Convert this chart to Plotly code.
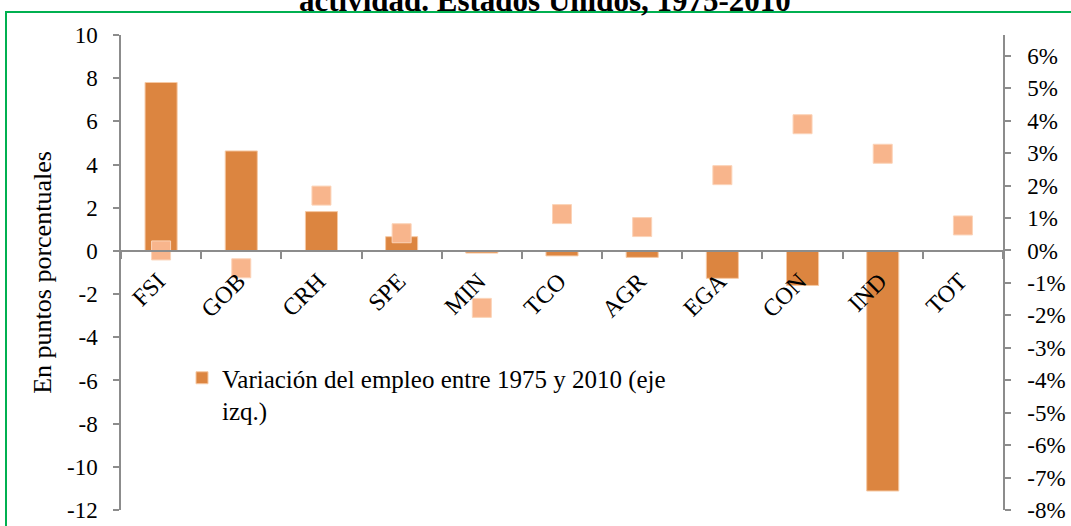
import plotly.graph_objects as go

categories = ["FSI", "GOB", "CRH", "SPE", "MIN", "TCO", "AGR", "EGA", "CON", "IND", "TOT"]
empleo_var = [7.8, 4.63, 1.82, 0.66, -0.1, -0.23, -0.3, -1.27, -1.6, -11.12, 0.0]
serie_der = [0.0, -0.55, 1.69, 0.53, -1.77, 1.12, 0.72, 2.32, 3.89, 2.98, 0.77]
left_ticks = list(range(-12, 11, 2))
left_labels = [str(v) for v in left_ticks]
right_ticks = list(range(-8, 7, 1))
right_labels = [f"{v}%" for v in right_ticks]

W, H = 1071, 526
L, R, T, B = 121, 68, 35, 16
pw, ph = W - L - R, H - T - B

def px_x(x):
    return (x - L) / pw

def px_y(y):
    return (H - B - y) / ph

FONT = "Liberation Serif"
FS = 23
AX = "#8c8c8c"

fig = go.Figure()
fig.add_trace(go.Bar(
    x=categories, y=empleo_var, name="Variación del empleo entre 1975 y 2010 (eje<br>izq.)",
    marker=dict(color="#DC8540", line=dict(color="#F6C9A4", width=1)),
    width=0.4, yaxis="y",
))
fig.add_trace(go.Scatter(
    x=categories, y=serie_der, mode="markers", yaxis="y2", showlegend=False,
    marker=dict(symbol="square", size=19, color="#F8B58C", line=dict(color="#FBD3B8", width=1)),
))

zero_pos = (0 - (-12)) / 22

fig.update_layout(
    width=W, height=H,
    margin=dict(l=L, r=R, t=T, b=B),
    paper_bgcolor="white", plot_bgcolor="white",
    font=dict(family=FONT, size=FS, color="black"),
    xaxis=dict(
        range=[-0.5, 10.5], automargin=False,
        anchor="free", position=zero_pos, showline=True, linecolor=AX, linewidth=1.5,
        ticks="outside", tickson="boundaries", ticklen=7, tickcolor=AX, tickwidth=1.5,
        tickangle=-45, tickfont=dict(family=FONT, size=24), showgrid=False,
        ticklabelstandoff=6, ticklabelshift=-3,
    ),
    yaxis=dict(
        range=[-12, 10], tickvals=left_ticks, ticktext=left_labels, automargin=False,
        showline=True, linecolor=AX, linewidth=1.5,
        ticks="outside", ticklen=6, tickcolor=AX, tickwidth=1.5, showgrid=False, zeroline=False,
        ticklabelstandoff=11, tickfont=dict(family=FONT, size=FS),
        title=dict(text="En puntos porcentuales", font=dict(family=FONT, size=26), standoff=8),
    ),
    yaxis2=dict(
        range=[-8, 6.64], tickvals=right_ticks, ticktext=right_labels, automargin=False,
        overlaying="y", side="right",
        showline=True, linecolor=AX, linewidth=1.5, ticks="outside", ticklen=6, tickcolor=AX,
        tickwidth=1.5, showgrid=False, zeroline=False, ticklabelstandoff=12,
        tickfont=dict(family=FONT, size=FS),
    ),
    legend=dict(
        x=px_x(182), y=px_y(355), xanchor="left", yanchor="top", valign="top",
        bgcolor="rgba(0,0,0,0)", font=dict(family=FONT, size=25), itemwidth=30,
    ),
    showlegend=True,
    shapes=[dict(
        type="rect", xref="paper", yref="paper",
        x0=px_x(6), x1=px_x(1085), y0=px_y(545), y1=px_y(12),
        line=dict(color="#00B050", width=2), fillcolor="rgba(0,0,0,0)", layer="below",
    )],
    annotations=[dict(
        text="<b>actividad. Estados Unidos, 1975-2010</b>", xref="paper", yref="paper",
        x=px_x(545), y=px_y(20), xanchor="center", yanchor="bottom", showarrow=False,
        font=dict(family=FONT, size=31, color="black"),
    )],
)

fig.write_html(
    "out.html",
    config={"displayModeBar": False},
    post_script="document.body.style.margin='0';document.body.style.overflow='hidden';",
)
